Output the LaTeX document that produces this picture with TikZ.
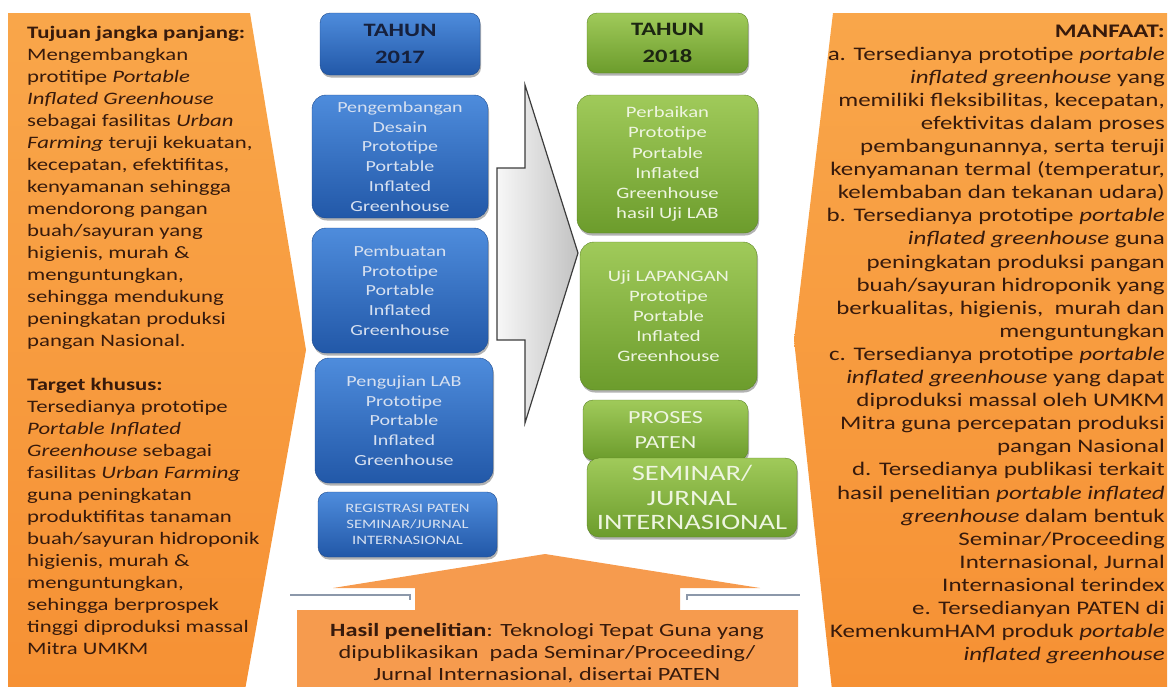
\documentclass[tikz,border=0pt]{standalone}
\usepackage{fontspec}
\setmainfont{Carlito}[FakeStretch=1.3]
\usetikzlibrary{shadows}
\definecolor{orTop}{RGB}{249,166,74}
\definecolor{orBot}{RGB}{246,145,52}
\definecolor{orRes}{RGB}{246,155,78}
\definecolor{brownText}{RGB}{55,26,12}
\definecolor{blueTop}{RGB}{78,140,220}
\definecolor{blueBot}{RGB}{34,88,168}
\definecolor{blueText}{RGB}{214,224,240}
\definecolor{navyText}{RGB}{22,32,60}
\definecolor{greenTop}{RGB}{160,202,90}
\definecolor{greenBot}{RGB}{108,156,44}
\definecolor{greenText}{RGB}{238,245,224}
\definecolor{greenDark}{RGB}{28,38,18}
\definecolor{arrowLine}{RGB}{60,60,60}
\definecolor{notchLine}{RGB}{140,152,170}
\tikzset{
  boxshadow/.style={drop shadow={shadow xshift=1pt, shadow yshift=-2.5pt, opacity=.3, fill=black}},
  bluebox/.style={rounded corners=14pt, top color=blueTop, bottom color=blueBot,
    draw=blueBot!85!black, line width=0.4pt, text=blueText, align=center, inner sep=0pt,
    boxshadow, font=\fontsize{15.4}{19.7}\selectfont},
  greenbox/.style={rounded corners=14pt, top color=greenTop, bottom color=greenBot,
    draw=greenBot!85!black, line width=0.4pt, text=greenText, align=center, inner sep=0pt,
    boxshadow, font=\fontsize{15.9}{20.2}\selectfont},
  headbox/.style={rounded corners=10pt, font=\bfseries\fontsize{18.9}{27}\selectfont},
  panel/.style={top color=orTop, bottom color=orBot},
  notch/.style={notchLine, line width=1.5pt},
  paneltext/.style={inner sep=0pt, text=brownText}
}
\begin{document}
\begin{tikzpicture}[x=1pt,y=1pt]
\useasboundingbox (0,0) rectangle (1169,-686);
\clip (0,0) rectangle (1169,-686);
% orange side panels
\path[panel] (8,-13) -- (250,-13) -- (306,-350) -- (245,-690) -- (8,-690) -- cycle;
\path[panel] (833,-13) -- (1167,-13) -- (1167,-690) -- (832,-690) -- (794,-340) -- cycle;
% bottom result up-arrow callout
\path[fill=orRes] (297,-690) -- (297,-610) -- (415,-610) -- (415,-588) -- (333,-588)
  -- (545,-554) -- (760,-588) -- (680,-588) -- (680,-610) -- (798,-610) -- (798,-690) -- cycle;
\draw[notch] (290,-595) -- (410,-595) -- (410,-600);
\draw[notch] (687,-600) -- (687,-595) -- (800,-595);
% grey arrow
\draw[arrowLine, line width=1.2pt, left color=gray!6, right color=gray!48, line join=miter]
  (497,-168) -- (525,-168) -- (525,-85) -- (578,-253) -- (525,-423) -- (525,-340) -- (497,-340) -- cycle;

% 2017 column
\node[bluebox, headbox, text=navyText, minimum width=160pt, minimum height=62pt] (y17) at (400,-44) {TAHUN\\2017};
\node[bluebox, minimum width=176pt, minimum height=123pt] (b1) at (400,-156.5)
  {Pengembangan\\Desain\\Prototipe\\Portable\\Inflated\\Greenhouse};
\node[bluebox, minimum width=176pt, minimum height=125pt] (b2) at (400,-290.5)
  {Pembuatan\\Prototipe\\Portable\\Inflated\\Greenhouse};
\node[bluebox, minimum width=178pt, minimum height=125pt] (b3) at (404,-420.5)
  {Pengujian LAB\\Prototipe\\Portable\\Inflated\\Greenhouse};
\node[bluebox, rounded corners=10pt, minimum width=179pt, minimum height=65pt,
  font=\fontsize{12.8}{16}\selectfont] (b4) at (407.5,-524.5)
  {REGISTRASI PATEN\\SEMINAR/JURNAL\\INTERNASIONAL};

% 2018 column
\node[greenbox, headbox, text=greenDark, minimum width=161pt, minimum height=60pt] (y18) at (667.5,-43) {TAHUN\\2018};
\node[greenbox, minimum width=181pt, minimum height=138pt] (g1) at (667.5,-164)
  {Perbaikan\\Prototipe\\Portable\\Inflated\\Greenhouse\\hasil Uji LAB};
\node[greenbox, minimum width=177pt, minimum height=148pt] (g2) at (668.5,-316)
  {Uji LAPANGAN\\Prototipe\\Portable\\Inflated\\Greenhouse};
\node[greenbox, rounded corners=10pt, minimum width=165pt, minimum height=60pt,
  font=\fontsize{18.5}{24.5}\selectfont] (g3) at (665.5,-430) {PROSES\\PATEN};
\node[greenbox, rounded corners=12pt, minimum width=210pt, minimum height=79pt,
  font=\fontsize{22}{24.5}\selectfont] (g4) at (692,-497.5) {SEMINAR/\\JURNAL\\INTERNASIONAL};

% left panel text
\node[paneltext, anchor=base west] (goal) at (27,-38) {\parbox[t]{275pt}{\fontsize{17.5}{22}\selectfont\raggedright
\textbf{Tujuan jangka panjang:}\\
Mengembangkan\\
protitipe \textit{Portable}\\
\textit{Inflated Greenhouse}\\
sebagai fasilitas \textit{Urban}\\
\textit{Farming} teruji kekuatan,\\
kecepatan, efektifitas,\\
kenyamanan sehingga\\
mendorong pangan\\
buah/sayuran yang\\
higienis, murah \&\\
menguntungkan,\\
sehingga mendukung\\
peningkatan produksi\\
pangan Nasional.\\[22pt]
\textbf{Target khusus:}\\
Tersedianya prototipe\\
\textit{Portable Inflated}\\
\textit{Greenhouse} sebagai\\
fasilitas \textit{Urban Farming}\\
guna peningkatan\\
produktifitas tanaman\\
buah/sayuran hidroponik\\
higienis, murah \&\\
menguntungkan,\\
sehingga berprospek\\
tinggi diproduksi massal\\
Mitra UMKM}};

% right panel text
\node[paneltext, anchor=base east] (benefit) at (1165,-37) {\parbox[t]{420pt}{\fontsize{19.2}{23.1}\selectfont\raggedleft
\textbf{MANFAAT:}\\
a. Tersedianya prototipe \textit{portable}\\
\textit{inflated greenhouse} yang\\
memiliki fleksibilitas, kecepatan,\\
efektivitas dalam proses\\
pembangunannya, serta teruji\\
kenyamanan termal (temperatur,\\
kelembaban dan tekanan udara)\\
b. Tersedianya prototipe \textit{portable}\\
\textit{inflated greenhouse} guna\\
peningkatan produksi pangan\\
buah/sayuran hidroponik yang\\
berkualitas, higienis,\ \ murah dan\\
menguntungkan\\
c. Tersedianya prototipe \textit{portable}\\
\textit{inflated greenhouse} yang dapat\\
diproduksi massal oleh UMKM\\
Mitra guna percepatan produksi\\
pangan Nasional\\
d. Tersedianya publikasi terkait\\
hasil penelitian \textit{portable inflated}\\
\textit{greenhouse} dalam bentuk\\
Seminar/Proceeding\\
Internasional, Jurnal\\
Internasional terindex\\
e. Tersedianyan PATEN di\\
KemenkumHAM produk \textit{portable}\\
\textit{inflated greenhouse}}};

% bottom result text
\node[paneltext, anchor=base] (result) at (547,-636) {\parbox[t]{520pt}{\centering\fontsize{18.7}{22}\selectfont
\textbf{Hasil penelitian}: Teknologi Tepat Guna yang\\
dipublikasikan\ \ pada Seminar/Proceeding/\\
Jurnal Internasional, disertai PATEN}};
\end{tikzpicture}
\end{document}
